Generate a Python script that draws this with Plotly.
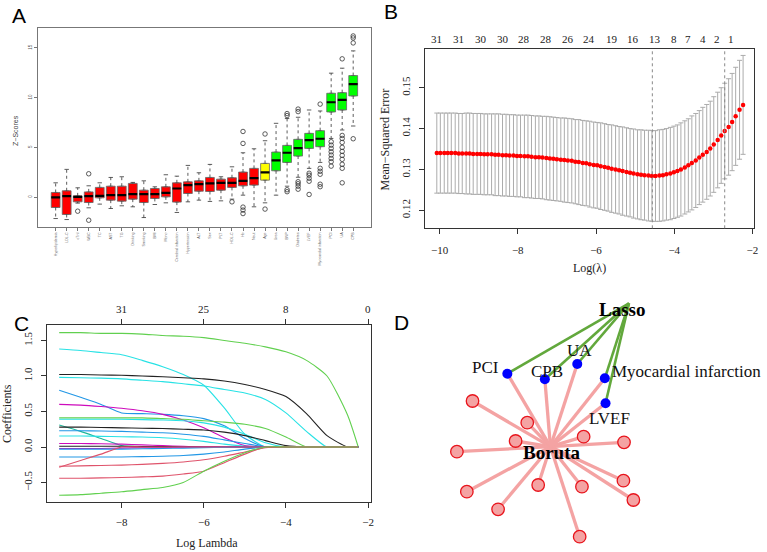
import plotly.graph_objects as go

W, H = 767, 552
SERIF = "Liberation Serif"
SANS = "Liberation Sans"

# ---------------- Panel A: Boruta importance (Z-scores) ----------------
features = ["Hyperlipidemia", "LDL-C", "cTnI", "WBC", "TC", "AST", "TG", "Drinking",
            "Smoking", "BMI", "Mono", "Cerebral infarction", "Hypertension", "ALT",
            "Sex", "PLT", "HDL-C", "Hb", "Neut", "Age", "Urea", "BNP", "Diabetes",
            "LVEF", "Myocardial infarction", "PCI", "UA", "CPB"]
decision = ["Rejected", "Rejected", "Rejected", "Rejected", "Rejected", "Rejected", "Rejected",
            "Rejected", "Rejected", "Rejected", "Rejected", "Rejected", "Rejected", "Rejected",
            "Rejected", "Rejected", "Rejected", "Rejected", "Rejected", "Tentative",
            "Confirmed", "Confirmed", "Confirmed", "Confirmed", "Confirmed", "Confirmed",
            "Confirmed", "Confirmed"]
z_low = [-2.15, -2.25, -0.60, -1.07, -0.70, -1.14, -0.87, -0.97, -2.05, -0.74, -0.57, -1.54,
         -0.47, -0.30, -0.43, -0.37, -0.20, 0.20, -0.97, -0.57, 0.20, 1.10, 2.00, 2.89, 3.49,
         5.90, 6.75, 7.15]
z_q1 = [-1.04, -1.74, -0.47, -0.54, -0.07, -0.30, -0.40, -0.20, -0.54, -0.13, 0.03, -0.50,
        0.37, 0.60, 0.57, 0.70, 0.98, 1.14, 1.21, 1.71, 2.65, 3.49, 4.13, 4.90, 5.07,
        8.56, 8.76, 10.17]
z_med = [-0.03, 0.10, 0.03, 0.10, 0.13, 0.20, 0.20, 0.30, 0.30, 0.30, 0.43, 0.87,
         1.21, 1.31, 1.38, 1.44, 1.44, 1.64, 1.91, 2.48, 3.70, 4.46, 4.93, 5.74, 5.87,
         9.54, 9.77, 11.35]
z_q3 = [0.47, 0.64, 0.13, 0.53, 0.98, 1.10, 1.10, 1.38, 0.70, 0.87, 1.04, 1.44,
        1.54, 1.64, 1.98, 1.81, 1.95, 2.52, 2.89, 3.39, 4.53, 5.20, 5.81, 6.41, 6.68,
        10.44, 10.50, 12.22]
z_high = [1.44, 2.79, 0.94, 1.14, 1.44, 1.98, 2.05, 1.48, 1.64, 1.04, 2.25, 2.11,
          3.19, 2.45, 3.29, 2.05, 3.05, 4.46, 4.86, 5.67, 7.42, 7.90, 8.03, 8.76, 8.66,
          12.46, 12.96, 14.70]
out_feature = ["cTnI", "WBC", "WBC", "HDL-C", "Hb", "Hb", "Hb", "Hb", "Hb", "Age", "Age",
               "BNP", "BNP", "BNP", "BNP", "Diabetes", "Diabetes", "Diabetes", "Diabetes",
               "Diabetes", "Diabetes", "LVEF", "LVEF", "LVEF", "LVEF", "LVEF",
               "Myocardial infarction", "Myocardial infarction", "Myocardial infarction",
               "Myocardial infarction", "Myocardial infarction", "Myocardial infarction",
               "PCI", "PCI", "PCI", "PCI", "PCI", "PCI", "PCI", "PCI",
               "UA", "UA", "UA", "UA", "UA", "UA", "UA", "UA", "UA", "UA", "UA",
               "CPB", "CPB", "CPB", "CPB"]
out_value = [-1.41, 2.35, -2.32, -0.47, 6.60, 5.40, -1.00, -1.30, -1.65, 6.35, -1.20,
             8.40, 8.20, 0.75, 0.55, 8.85, 8.60, 1.55, 1.35, 1.10, 0.80,
             2.40, 2.20, 1.90, 1.60, 0.27,
             9.35, 2.90, 2.60, 2.30, 1.30, 1.05,
             5.57, 5.23, 4.90, 4.56, 4.23, 3.89, 3.56, 3.12,
             13.90, 6.20, 5.90, 5.50, 5.00, 4.60, 4.20, 3.80, 3.30, 2.90, 1.44,
             16.20, 16.00, 15.50, 5.87]
decision_colors = {"Rejected": "#FF0000", "Tentative": "#FFFF00", "Confirmed": "#00FF00"}

# ---------------- Panel B: cross-validation curve ----------------
log_lambda = [-10.07, -9.98, -9.88, -9.79, -9.70, -9.60, -9.51, -9.42, -9.32, -9.23,
              -9.14, -9.04, -8.95, -8.86, -8.77, -8.67, -8.58, -8.49, -8.39, -8.30,
              -8.21, -8.11, -8.02, -7.93, -7.83, -7.74, -7.65, -7.55, -7.46, -7.37,
              -7.27, -7.18, -7.09, -7.00, -6.90, -6.81, -6.72, -6.62, -6.53, -6.44,
              -6.34, -6.25, -6.16, -6.06, -5.97, -5.88, -5.78, -5.69, -5.60, -5.50,
              -5.41, -5.32, -5.22, -5.13, -5.04, -4.94, -4.85, -4.76, -4.66, -4.57,
              -4.48, -4.38, -4.29, -4.20, -4.10, -4.01, -3.92, -3.83, -3.73, -3.64,
              -3.55, -3.45, -3.36, -3.27, -3.17, -3.08, -2.99, -2.89, -2.80, -2.71,
              -2.61, -2.52, -2.43, -2.33, -2.24]
cv_mse = [0.1340, 0.1340, 0.1340, 0.1340, 0.1340, 0.1340, 0.1339, 0.1339, 0.1339, 0.1339,
          0.1338, 0.1338, 0.1338, 0.1337, 0.1337, 0.1337, 0.1336, 0.1336, 0.1335, 0.1335,
          0.1334, 0.1334, 0.1333, 0.1333, 0.1332, 0.1332, 0.1331, 0.1330, 0.1330, 0.1329,
          0.1328, 0.1327, 0.1326, 0.1325, 0.1324, 0.1323, 0.1322, 0.1321, 0.1319, 0.1318,
          0.1316, 0.1315, 0.1313, 0.1311, 0.1310, 0.1308, 0.1306, 0.1304, 0.1302, 0.1300,
          0.1298, 0.1296, 0.1294, 0.1292, 0.1290, 0.1288, 0.1287, 0.1286, 0.1285, 0.1284,
          0.1284, 0.1285, 0.1286, 0.1288, 0.1290, 0.1293, 0.1296, 0.1300, 0.1305, 0.1310,
          0.1316, 0.1322, 0.1329, 0.1336, 0.1343, 0.1351, 0.1361, 0.1372, 0.1383, 0.1394,
          0.1404, 0.1416, 0.1430, 0.1446, 0.1458]
cv_sd = [0.0098, 0.0098, 0.0098, 0.0098, 0.0098, 0.0098, 0.0098, 0.0098, 0.0099, 0.0099,
         0.0099, 0.0099, 0.0099, 0.0099, 0.0099, 0.0099, 0.0100, 0.0100, 0.0100, 0.0100,
         0.0100, 0.0100, 0.0100, 0.0100, 0.0101, 0.0101, 0.0101, 0.0101, 0.0101, 0.0101,
         0.0102, 0.0102, 0.0102, 0.0102, 0.0102, 0.0103, 0.0103, 0.0103, 0.0103, 0.0104,
         0.0104, 0.0104, 0.0105, 0.0105, 0.0105, 0.0106, 0.0106, 0.0106, 0.0107, 0.0107,
         0.0107, 0.0108, 0.0108, 0.0108, 0.0109, 0.0109, 0.0110, 0.0110, 0.0111, 0.0111,
         0.0111, 0.0112, 0.0112, 0.0112, 0.0113, 0.0113, 0.0113, 0.0114, 0.0114, 0.0114,
         0.0115, 0.0115, 0.0115, 0.0116, 0.0116, 0.0116, 0.0117, 0.0117, 0.0117, 0.0117,
         0.0118, 0.0119, 0.0120, 0.0121, 0.0121]
lambda_min = -4.56
lambda_1se = -2.71
nz_lambda = [-10.07, -9.52, -8.94, -8.39, -7.83, -7.28, -6.72, -6.17, -5.60, -5.05,
             -4.48, -4.01, -3.65, -3.27, -2.91, -2.55]
nz_count = [31, 31, 30, 30, 28, 28, 26, 24, 19, 16, 13, 8, 7, 4, 2, 1]

# ---------------- Panel C: coefficient paths ----------------
path_lambda = [-9.52, -9.0, -8.5, -8.0, -7.5, -7.0, -6.5, -6.0, -5.5, -5.0, -4.5, -4.0,
               -3.5, -3.0, -2.5, -2.24]
coef_paths = [
    [1.61, 1.61, 1.60, 1.60, 1.59, 1.57, 1.56, 1.54, 1.50, 1.46, 1.41, 1.34, 1.22, 1.00, 0.45, 0.0],
    [1.38, 1.36, 1.33, 1.30, 1.22, 1.13, 1.02, 0.87, 0.55, 0.18, 0.0, 0.0, 0.0, 0.0, 0.0, 0.0],
    [1.02, 1.02, 1.015, 1.01, 1.00, 0.99, 0.975, 0.96, 0.93, 0.88, 0.81, 0.71, 0.47, 0.16, 0.0, 0.0],
    [0.98, 0.975, 0.97, 0.96, 0.94, 0.92, 0.89, 0.86, 0.81, 0.76, 0.67, 0.48, 0.22, 0.0, 0.0, 0.0],
    [0.80, 0.70, 0.60, 0.48, 0.47, 0.46, 0.44, 0.40, 0.30, 0.12, 0.0, 0.0, 0.0, 0.0, 0.0, 0.0],
    [0.60, 0.59, 0.57, 0.545, 0.51, 0.46, 0.38, 0.27, 0.13, 0.02, 0.0, 0.0, 0.0, 0.0, 0.0, 0.0],
    [0.41, 0.41, 0.41, 0.41, 0.41, 0.40, 0.39, 0.37, 0.35, 0.32, 0.26, 0.14, 0.0, 0.0, 0.0, 0.0],
    [0.39, 0.39, 0.39, 0.39, 0.385, 0.38, 0.37, 0.34, 0.28, 0.18, 0.06, 0.0, 0.0, 0.0, 0.0, 0.0],
    [0.31, 0.22, 0.12, 0.02, 0.0, 0.0, 0.0, 0.0, 0.0, 0.0, 0.0, 0.0, 0.0, 0.0, 0.0, 0.0],
    [0.28, 0.28, 0.275, 0.27, 0.265, 0.26, 0.25, 0.24, 0.21, 0.16, 0.09, 0.02, 0.0, 0.0, 0.0, 0.0],
    [0.23, 0.23, 0.225, 0.22, 0.21, 0.20, 0.18, 0.15, 0.10, 0.05, 0.0, 0.0, 0.0, 0.0, 0.0, 0.0],
    [0.155, 0.155, 0.15, 0.145, 0.14, 0.13, 0.11, 0.08, 0.04, 0.01, 0.0, 0.0, 0.0, 0.0, 0.0, 0.0],
    [0.05, 0.05, 0.045, 0.04, 0.03, 0.02, 0.01, 0.0, 0.0, 0.0, 0.0, 0.0, 0.0, 0.0, 0.0, 0.0],
    [0.01, 0.01, 0.01, 0.01, 0.008, 0.005, 0.0, 0.0, 0.0, 0.0, 0.0, 0.0, 0.0, 0.0, 0.0, 0.0],
    [-0.02, -0.02, -0.02, -0.015, -0.01, -0.01, -0.005, 0.0, 0.0, 0.0, 0.0, 0.0, 0.0, 0.0, 0.0, 0.0],
    [-0.03, -0.03, -0.03, -0.03, -0.025, -0.02, -0.015, -0.01, -0.005, 0.0, 0.0, 0.0, 0.0, 0.0, 0.0, 0.0],
    [-0.14, -0.14, -0.14, -0.14, -0.135, -0.13, -0.12, -0.10, -0.07, -0.03, 0.0, 0.0, 0.0, 0.0, 0.0, 0.0],
    [-0.285, -0.19, -0.10, 0.0, 0.0, 0.0, 0.0, 0.0, 0.0, 0.0, 0.0, 0.0, 0.0, 0.0, 0.0, 0.0],
    [-0.27, -0.265, -0.26, -0.255, -0.245, -0.23, -0.21, -0.18, -0.13, -0.07, -0.01, 0.0, 0.0, 0.0, 0.0, 0.0],
    [-0.44, -0.44, -0.435, -0.43, -0.42, -0.41, -0.38, -0.34, -0.22, -0.10, 0.0, 0.0, 0.0, 0.0, 0.0, 0.0],
    [-0.68, -0.67, -0.65, -0.63, -0.60, -0.57, -0.50, -0.34, -0.20, -0.08, 0.0, 0.0, 0.0, 0.0, 0.0, 0.0],
]
path_colors = ["#61D04F", "#28E2E5", "#222222", "#28E2E5", "#2297E6", "#CD0BBC", "#61D04F",
               "#28E2E5", "#1FB89A", "#222222", "#2297E6", "#28E2E5", "#CD0BBC", "#222222",
               "#CD0BBC", "#2297E6", "#2297E6", "#DF536B", "#DF536B", "#DF536B", "#61D04F"]
path_top_lambda = [-8, -6, -4, -2]
path_top_count = [31, 25, 8, 0]

# ---------------- Panel D: feature network ----------------
lasso_hub = (632.3, 303.3)
boruta_hub = (553.3, 446.7)
shared_names = ["PCI", "CPB", "UA", "Myocardial infarction", "LVEF"]
shared_x = [510.0, 547.7, 580.3, 608.0, 608.7]
shared_y = [373.7, 379.3, 364.0, 378.3, 403.3]
label_x = [504.0, 550.0, 582.3, 613.3, 612.3]
label_y = [367.7, 371.0, 350.0, 371.0, 418.3]
label_anchor = ["right", "center", "center", "left", "center"]
boruta_only_x = [475.0, 530.0, 518.3, 459.3, 586.7, 627.3, 626.7, 636.7, 585.0, 541.0,
                 469.3, 500.7, 582.7]
boruta_only_y = [401.0, 422.7, 441.0, 451.7, 436.7, 442.3, 480.7, 500.0, 486.7, 485.0,
                 491.7, 509.3, 536.7]

fig = go.Figure()

# ---- A ----
pos = [i + 1 for i in range(len(features))]
wx, wy, cx, cy, mx, my = [], [], [], [], [], []
for i, p in enumerate(pos):
    wx += [p, p, None, p, p, None]
    wy += [z_q3[i], z_high[i], None, z_q1[i], z_low[i], None]
    cx += [p - 0.2, p + 0.2, None, p - 0.2, p + 0.2, None]
    cy += [z_high[i], z_high[i], None, z_low[i], z_low[i], None]
    mx += [p - 0.4, p + 0.4, None]
    my += [z_med[i], z_med[i], None]
fig.add_trace(go.Scatter(x=wx, y=wy, mode="lines", line=dict(color="#333", width=0.8, dash="dot"),
                         xaxis="x", yaxis="y", hoverinfo="skip", showlegend=False))
fig.add_trace(go.Scatter(x=cx, y=cy, mode="lines", line=dict(color="#333", width=0.8),
                         xaxis="x", yaxis="y", hoverinfo="skip", showlegend=False))
for dec, col in decision_colors.items():
    idx = [i for i, d in enumerate(decision) if d == dec]
    fig.add_trace(go.Box(
        x=[pos[i] for i in idx], q1=[z_q1[i] for i in idx], median=[z_med[i] for i in idx],
        q3=[z_q3[i] for i in idx], lowerfence=[z_q1[i] for i in idx],
        upperfence=[z_q3[i] for i in idx], width=0.8, fillcolor=col,
        line=dict(color="#666", width=0.8), boxpoints=False,
        xaxis="x", yaxis="y", hoverinfo="skip", showlegend=False))
fig.add_trace(go.Scatter(x=mx, y=my, mode="lines", line=dict(color="#000", width=2.2),
                         xaxis="x", yaxis="y", hoverinfo="skip", showlegend=False))
fig.add_trace(go.Scatter(x=[features.index(f) + 1 for f in out_feature], y=out_value,
                         mode="markers",
                         marker=dict(symbol="circle-open", size=4.5, color="#333",
                                     line=dict(width=0.8)),
                         xaxis="x", yaxis="y", hoverinfo="skip", showlegend=False))

# ---- B ----
fig.add_trace(go.Scatter(x=log_lambda, y=cv_mse, mode="markers",
                         marker=dict(color="#FF0000", size=4.5),
                         error_y=dict(type="data", array=cv_sd, color="#ABABAB",
                                      thickness=1, width=2.5),
                         xaxis="x2", yaxis="y2", hoverinfo="skip", showlegend=False))

# ---- C ----
for vals, col in zip(coef_paths, path_colors):
    fig.add_trace(go.Scatter(x=path_lambda, y=vals, mode="lines",
                             line=dict(color=col, width=1.1, shape="spline", smoothing=0.6),
                             xaxis="x3", yaxis="y3", hoverinfo="skip", showlegend=False))

# ---- D ----
ex, ey = [], []
for x, y in zip(boruta_only_x + shared_x, boruta_only_y + shared_y):
    ex += [boruta_hub[0], x, None]
    ey += [boruta_hub[1], y, None]
fig.add_trace(go.Scatter(x=ex, y=ey, mode="lines", line=dict(color="#F4A3A3", width=3.3),
                         xaxis="x4", yaxis="y4", hoverinfo="skip", showlegend=False))
gx, gy = [], []
for x, y in zip(shared_x, shared_y):
    gx += [lasso_hub[0], x, None]
    gy += [lasso_hub[1], y, None]
fig.add_trace(go.Scatter(x=gx, y=gy, mode="lines", line=dict(color="#62A83C", width=2.6),
                         xaxis="x4", yaxis="y4", hoverinfo="skip", showlegend=False))
fig.add_trace(go.Scatter(x=boruta_only_x, y=boruta_only_y, mode="markers",
                         marker=dict(size=12.5, color="#F4A3A3", line=dict(color="#E8141C", width=1.3)),
                         xaxis="x4", yaxis="y4", hoverinfo="skip", showlegend=False))
fig.add_trace(go.Scatter(x=shared_x, y=shared_y, mode="markers",
                         marker=dict(size=10, color="#0000FF", line=dict(width=0)),
                         xaxis="x4", yaxis="y4", hoverinfo="skip", showlegend=False))

ann = []
for lx, ly, name, anc in zip(label_x, label_y, shared_names, label_anchor):
    ann.append(dict(x=lx, y=ly, xref="x4", yref="y4", text=name, showarrow=False,
                    xanchor=anc, yanchor="middle", font=dict(family=SERIF, size=17, color="#111")))
ann.append(dict(x=625.5, y=309.0, xref="x4", yref="y4", text="<b>Lasso</b>", showarrow=False,
                font=dict(family=SERIF, size=19, color="#000")))
ann.append(dict(x=555.3, y=452.7, xref="x4", yref="y4", text="<b>Boruta</b>", showarrow=False,
                font=dict(family=SERIF, size=19, color="#000")))

# B top counts
for lam, cnt in zip(nz_lambda, nz_count):
    ann.append(dict(x=lam, y=1 - 31.3 / H, xref="x2", yref="paper", text=str(cnt), showarrow=False,
                    font=dict(family=SERIF, size=11, color="#222")))
# C top counts
for lam, cnt in zip(path_top_lambda, path_top_count):
    ann.append(dict(x=lam, y=1 - 309 / H, xref="x3", yref="paper", text=str(cnt), showarrow=False,
                    font=dict(family=SERIF, size=11, color="#222")))

# axis titles
ann.append(dict(x=16 / W, y=1 - 130 / H, xref="paper", yref="paper", text="Z−Scores", textangle=-90,
                xanchor="center", yanchor="middle",
                showarrow=False, font=dict(family=SANS, size=7, color="#444")))
ann.append(dict(x=387.5 / W, y=1 - 139 / H, xref="paper", yref="paper", text="Mean−Squared Error",
                xanchor="center", yanchor="middle",
                textangle=-90, showarrow=False, font=dict(family=SERIF, size=12, color="#222")))
ann.append(dict(x=593 / W, y=1 - 268 / H, xref="paper", yref="paper", text="Log(λ)",
                xanchor="center", yanchor="middle",
                showarrow=False, font=dict(family=SERIF, size=12, color="#222")))
ann.append(dict(x=7 / W, y=1 - 413 / H, xref="paper", yref="paper", text="Coefficients",
                xanchor="center", yanchor="middle",
                textangle=-90, showarrow=False, font=dict(family=SERIF, size=12, color="#222")))
ann.append(dict(x=208 / W, y=1 - 543 / H, xref="paper", yref="paper", text="Log Lambda",
                xanchor="center", yanchor="middle",
                showarrow=False, font=dict(family=SERIF, size=12, color="#222")))

# panel letters
for letter, lx, ly in [("A", 18.8, 15.5), ("B", 393, 12), ("C", 21.7, 323.3), ("D", 404, 322.5)]:
    ann.append(dict(x=lx / W, y=1 - ly / H, xref="paper", yref="paper", text=letter,
                    showarrow=False, xanchor="center", yanchor="middle",
                    font=dict(family=SANS, size=21, color="#000")))

shapes = []
for lam in [lambda_min, lambda_1se]:
    shapes.append(dict(type="line", x0=lam, x1=lam, y0=0, y1=1, xref="x2", yref="y2 domain",
                       line=dict(color="#888", width=1, dash="dot")))

serif_tick = dict(family=SERIF, size=11, color="#222")
fig.update_layout(
    width=W, height=H, margin=dict(l=0, r=0, t=0, b=0),
    paper_bgcolor="white", plot_bgcolor="white", boxmode="overlay",
    annotations=ann, shapes=shapes,
    xaxis=dict(domain=[38 / W, 373 / W], range=[-0.62, 29.62], anchor="y",
               tickvals=pos, ticktext=features, tickangle=-90,
               tickfont=dict(family=SANS, size=3.6, color="#666"),
               ticks="outside", ticklen=3, tickcolor="#777", showline=True, mirror=True,
               linecolor="#777", linewidth=1, showgrid=False, zeroline=False),
    yaxis=dict(domain=[1 - 227 / H, 1 - 28 / H], range=[-3, 17], anchor="x",
               tickvals=[0, 5, 10, 15], tickangle=-90,
               tickfont=dict(family=SANS, size=4.5, color="#555"),
               ticks="outside", ticklen=3, tickcolor="#777", showline=True, mirror=True,
               linecolor="#777", linewidth=1, showgrid=False, zeroline=False),
    xaxis2=dict(domain=[427.7 / W, 758 / W], range=[-10.36, -1.96], anchor="y2",
                tickvals=[-10, -8, -6, -4, -2], tickfont=serif_tick, ticks="outside",
                ticklen=5, tickcolor="#333", ticklabelstandoff=6,
                showline=True, mirror=True, linecolor="#333", linewidth=1,
                showgrid=False, zeroline=False),
    yaxis2=dict(domain=[1 - 228.3 / H, 1 - 49.3 / H], range=[0.1156, 0.1594], anchor="x2",
                tickvals=[0.12, 0.13, 0.14, 0.15], tickformat=".2f", tickangle=-90,
                tickfont=serif_tick, ticks="outside", ticklen=5, tickcolor="#333",
                ticklabelstandoff=5,
                showline=True, mirror=True, linecolor="#333", linewidth=1,
                showgrid=False, zeroline=False),
    xaxis3=dict(domain=[47.7 / W, 372.7 / W], range=[-9.806, -1.935], anchor="y3",
                tickvals=[-8, -6, -4, -2], tickfont=serif_tick, ticks="outside",
                ticklen=5, tickcolor="#333", ticklabelstandoff=5,
                showline=True, mirror="ticks", linecolor="#333", linewidth=1,
                showgrid=False, zeroline=False),
    yaxis3=dict(domain=[1 - 501.7 / H, 1 - 325 / H], range=[-0.77, 1.718], anchor="x3",
                tickvals=[-0.5, 0, 0.5, 1.0, 1.5], ticktext=["−0.5", "0.0", "0.5", "1.0", "1.5"],
                tickangle=-90, tickfont=serif_tick, ticks="outside", ticklen=5,
                tickcolor="#333", ticklabelstandoff=5,
                showline=True, mirror=True, linecolor="#333", linewidth=1,
                showgrid=False, zeroline=False),
    xaxis4=dict(domain=[380 / W, 1], range=[380, 767], anchor="y4", visible=False),
    yaxis4=dict(domain=[0, 1 - 270 / H], range=[552, 270], anchor="x4", visible=False),
)

fig.write_html("out.html")
